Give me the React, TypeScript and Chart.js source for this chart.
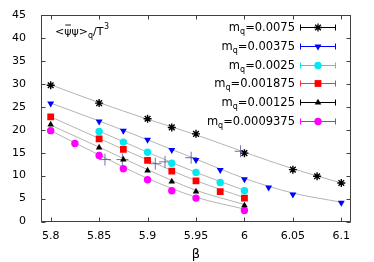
import React, { useEffect, useRef } from "react";
import { Chart, registerables } from "chart.js";

Chart.register(...registerables);

// ---- axis ticks ----
const X_TICKS = [5.8, 5.85, 5.9, 5.95, 6.0, 6.05, 6.1];
const X_TICK_LABELS = ["5.8", "5.85", "5.9", "5.95", "6", "6.05", "6.1"];
const Y_TICKS = [0, 5, 10, 15, 20, 25, 30, 35, 40, 45];
const X_MIN = 5.79;
const X_MAX = 6.11;
const Y_MIN = 0;
const Y_MAX = 45;

// ---- legend labels (quark masses) ----
const MASS_LABELS = ["0.0075", "0.00375", "0.0025", "0.001875", "0.00125", "0.0009375"];

// ---- data series ----
const BETA_A = [5.8, 5.85, 5.9, 5.925, 5.95, 6.0, 6.05, 6.075, 6.1];
const VAL_A = [29.7, 25.8, 22.4, 20.5, 19.1, 14.9, 11.3, 9.85, 8.4];

const BETA_B = [5.8, 5.85, 5.875, 5.9, 5.925, 5.95, 5.975, 6.0, 6.025, 6.05, 6.1];
const VAL_B = [25.7, 21.8, 19.8, 17.8, 15.6, 13.4, 11.2, 9.2, 7.4, 5.9, 4.1];

const BETA_C = [5.85, 5.875, 5.9, 5.925, 5.95, 5.975, 6.0];
const VAL_C = [19.6, 17.3, 15.1, 12.7, 10.7, 8.5, 6.7];

const BETA_D = [5.8, 5.85, 5.875, 5.9, 5.925, 5.95, 5.975, 6.0];
const VAL_D = [22.8, 18.0, 15.7, 13.3, 11.0, 8.85, 6.5, 5.1];

const BETA_E = [5.8, 5.85, 5.875, 5.9, 5.925, 5.95, 6.0];
const VAL_E = [21.1, 16.1, 13.5, 11.1, 8.7, 6.5, 3.5];

const BETA_F = [5.8, 5.825, 5.85, 5.875, 5.9, 5.925, 5.95, 6.0];
const VAL_F = [19.8, 17.0, 14.4, 11.5, 9.1, 6.7, 5.1, 2.4];

// ---- extra crosses (no legend entry) ----
const CROSS_BETA = [5.856, 5.874, 5.908, 5.918, 5.945, 5.996];
const CROSS_VAL = [13.5, 13.5, 12.6, 13.0, 13.9, 15.3];

// ---- fit curves ----
const FIT_A_BETA = [5.8, 5.85, 5.9, 5.95, 6.0, 6.05, 6.1];
const FIT_A = [29.8, 25.9, 22.3, 18.9, 15.1, 11.5, 8.4];
const FIT_B_BETA = [5.8, 5.85, 5.9, 5.95, 6.0, 6.05, 6.1];
const FIT_B = [25.8, 21.9, 17.8, 13.6, 9.4, 6.2, 4.2];
const FIT_C_BETA = [5.85, 5.9, 5.95, 6.0];
const FIT_C = [19.7, 15.1, 10.7, 6.8];
const FIT_D_BETA = [5.8, 5.85, 5.9, 5.95, 6.0];
const FIT_D = [22.8, 18.1, 13.4, 8.9, 5.2];
const FIT_E_BETA = [5.8, 5.85, 5.9, 5.95, 6.0];
const FIT_E = [21.0, 16.2, 11.3, 6.8, 3.7];
const FIT_F_BETA = [5.8, 5.85, 5.9, 5.95, 6.0];
const FIT_F = [19.8, 14.5, 9.4, 5.3, 2.7];

const FONT = "'DejaVu Sans', sans-serif";

type Marker = { style: string; rot: number; r: number; color: string; line: string };
const MARKERS: Marker[] = [
  { style: "star", rot: 0, r: 4, color: "#000000", line: "#000000" },
  { style: "triangle", rot: 180, r: 4, color: "#0000ff", line: "#0000ff" },
  { style: "circle", rot: 0, r: 3.7, color: "#00e8f0", line: "#00e8f0" },
  { style: "rect", rot: 0, r: 4.8, color: "#ff0000", line: "#ff3030" },
  { style: "triangle", rot: 0, r: 3.8, color: "#000000", line: "#000000" },
  { style: "circle", rot: 0, r: 3.7, color: "#ff00ff", line: "#ff00ff" },
];

const zip = (xs: number[], ys: number[]) => xs.map((x, i) => ({ x, y: ys[i] }));

function drawMarker(ctx: CanvasRenderingContext2D, m: Marker, x: number, y: number) {
  ctx.save();
  ctx.fillStyle = m.color;
  ctx.strokeStyle = m.color;
  ctx.lineWidth = 1.3;
  const r = m.r;
  if (m.style === "circle") {
    ctx.beginPath();
    ctx.arc(x, y, r, 0, Math.PI * 2);
    ctx.fill();
  } else if (m.style === "rect") {
    const s = r * Math.SQRT1_2;
    ctx.fillRect(x - s, y - s, 2 * s, 2 * s);
  } else if (m.style === "triangle") {
    const sgn = m.rot === 180 ? -1 : 1;
    const h = r;
    ctx.beginPath();
    ctx.moveTo(x, y - sgn * h);
    ctx.lineTo(x - h * 0.866, y + sgn * h * 0.5);
    ctx.lineTo(x + h * 0.866, y + sgn * h * 0.5);
    ctx.closePath();
    ctx.fill();
  } else if (m.style === "star") {
    ctx.beginPath();
    ctx.moveTo(x - r, y);
    ctx.lineTo(x + r, y);
    ctx.moveTo(x, y - r);
    ctx.lineTo(x, y + r);
    const d = r * 0.707;
    ctx.moveTo(x - d, y - d);
    ctx.lineTo(x + d, y + d);
    ctx.moveTo(x - d, y + d);
    ctx.lineTo(x + d, y - d);
    ctx.stroke();
  }
  ctx.restore();
}

const overlay = {
  id: "overlay",
  afterDatasetsDraw(chart: any) {
    const { ctx, chartArea: a, scales } = chart;
    const xs = scales.x;
    const ys = scales.y;
    ctx.save();
    // frame
    ctx.strokeStyle = "#404040";
    ctx.lineWidth = 1;
    const L = Math.round(a.left) + 0.5;
    const R = Math.round(a.right) - 0.5;
    const T = Math.round(a.top) + 0.5;
    const B = Math.round(a.bottom) - 0.5;
    ctx.strokeRect(L, T, R - L, B - T);
    // inward ticks
    const tl = 4;
    ctx.beginPath();
    X_TICKS.forEach((v) => {
      const px = Math.round(xs.getPixelForValue(v)) + 0.5;
      ctx.moveTo(px, B);
      ctx.lineTo(px, B - tl);
      ctx.moveTo(px, T);
      ctx.lineTo(px, T + tl);
    });
    Y_TICKS.forEach((v) => {
      const py = Math.round(ys.getPixelForValue(v)) + 0.5;
      ctx.moveTo(L, py);
      ctx.lineTo(L + tl, py);
      ctx.moveTo(R, py);
      ctx.lineTo(R - tl, py);
    });
    ctx.stroke();

    // title <ψ̄ψ>_q/T^3
    ctx.fillStyle = "#000";
    ctx.textBaseline = "alphabetic";
    ctx.textAlign = "left";
    const big = `11px ${FONT}`;
    const legBig = `11.5px ${FONT}`;
    const small = `8px ${FONT}`;
    let tx = 55;
    const ty = 35;
    ctx.font = big;
    ctx.fillText("<", tx, ty);
    tx += ctx.measureText("<").width;
    const psiW = ctx.measureText("ψ").width;
    ctx.fillText("ψ", tx, ty);
    ctx.beginPath();
    ctx.lineWidth = 0.9;
    ctx.strokeStyle = "#000";
    ctx.moveTo(tx + 1, ty - 10);
    ctx.lineTo(tx + psiW - 0.5, ty - 10);
    ctx.stroke();
    tx += psiW;
    ctx.fillText("ψ>", tx, ty);
    tx += ctx.measureText("ψ>").width;
    ctx.font = small;
    ctx.fillText("q", tx, ty + 3);
    tx += ctx.measureText("q").width;
    ctx.font = big;
    ctx.fillText("/T", tx, ty);
    tx += ctx.measureText("/T").width;
    ctx.font = small;
    ctx.fillText("3", tx + 0.5, ty - 6);

    // legend
    ctx.textAlign = "right";
    MASS_LABELS.forEach((lab, i) => {
      const y = 26.7 + i * 18.9;
      const xr = 295;
      const base = y + 4;
      ctx.fillStyle = "#000";
      ctx.font = legBig;
      const t1 = "=" + lab;
      ctx.fillText(t1, xr, base);
      const w1 = ctx.measureText(t1).width;
      ctx.font = small;
      ctx.fillText("q", xr - w1, base + 3);
      const w2 = ctx.measureText("q").width;
      ctx.font = legBig;
      ctx.fillText("m", xr - w1 - w2, base);
      // sample line with error-bar caps
      const m = MARKERS[i];
      const ly = Math.round(y) + 0.5;
      ctx.strokeStyle = m.line;
      ctx.lineWidth = 1;
      ctx.beginPath();
      ctx.moveTo(300, ly);
      ctx.lineTo(336, ly);
      ctx.moveTo(300.5, ly - 3);
      ctx.lineTo(300.5, ly + 3);
      ctx.moveTo(335.5, ly - 3);
      ctx.lineTo(335.5, ly + 3);
      ctx.stroke();
      drawMarker(ctx, m, 318, ly);
    });

    // x axis title
    ctx.textAlign = "center";
    ctx.fillStyle = "#000";
    ctx.font = `13px ${FONT}`;
    ctx.fillText("β", (a.left + a.right) / 2, 258);
    ctx.restore();
  },
};

export default function App() {
  const ref = useRef<HTMLCanvasElement | null>(null);
  useEffect(() => {
    if (!ref.current) return;
    const fitSet = (xs: number[], ys: number[]) => ({
      data: zip(xs, ys),
      showLine: true,
      borderColor: "#b4b4b4",
      borderWidth: 1,
      pointRadius: 0,
      cubicInterpolationMode: "monotone" as const,
      order: 10,
    });
    const pointSet = (xs: number[], ys: number[], m: Marker) => ({
      data: zip(xs, ys),
      showLine: false,
      pointStyle: m.style,
      rotation: m.rot,
      radius: m.r,
      pointRadius: m.r,
      backgroundColor: m.color,
      borderColor: m.color,
      borderWidth: m.style === "star" ? 1.4 : 0,
      order: 0,
    });
    const chart = new Chart(ref.current, {
      type: "scatter",
      data: {
        datasets: [
          pointSet(BETA_A, VAL_A, MARKERS[0]),
          pointSet(BETA_B, VAL_B, MARKERS[1]),
          pointSet(BETA_C, VAL_C, MARKERS[2]),
          pointSet(BETA_D, VAL_D, MARKERS[3]),
          pointSet(BETA_E, VAL_E, MARKERS[4]),
          pointSet(BETA_F, VAL_F, MARKERS[5]),
          {
            data: zip(CROSS_BETA, CROSS_VAL),
            showLine: false,
            pointStyle: "cross",
            pointRadius: 6,
            borderColor: "rgba(70,70,140,0.75)",
            borderWidth: 1,
            order: 5,
          },
          fitSet(FIT_A_BETA, FIT_A),
          fitSet(FIT_B_BETA, FIT_B),
          fitSet(FIT_C_BETA, FIT_C),
          fitSet(FIT_D_BETA, FIT_D),
          fitSet(FIT_E_BETA, FIT_E),
          fitSet(FIT_F_BETA, FIT_F),
        ] as any,
      },
      options: {
        animation: false,
        responsive: false,
        events: [],
        layout: { padding: { top: 15, right: 23, left: 0, bottom: 0 } },
        plugins: { legend: { display: false }, tooltip: { enabled: false }, title: { display: false } },
        scales: {
          x: {
            type: "linear",
            min: X_MIN,
            max: X_MAX,
            grid: { display: false },
            border: { display: false },
            afterBuildTicks: (s: any) => {
              s.ticks = X_TICKS.map((v) => ({ value: v }));
            },
            afterFit: (s: any) => {
              s.height = 40.5;
            },
            ticks: {
              autoSkip: false,
              maxRotation: 0,
              padding: 0,
              color: "#000",
              font: { family: FONT, size: 11 },
              callback: (v: any) => {
                const i = X_TICKS.findIndex((t) => Math.abs(t - Number(v)) < 1e-6);
                return i >= 0 ? X_TICK_LABELS[i] : "";
              },
            },
          },
          y: {
            type: "linear",
            min: Y_MIN,
            max: Y_MAX,
            grid: { display: false },
            border: { display: false },
            afterBuildTicks: (s: any) => {
              s.ticks = Y_TICKS.map((v) => ({ value: v }));
            },
            afterFit: (s: any) => {
              s.width = 41;
            },
            ticks: {
              padding: 7,
              color: "#000",
              font: { family: FONT, size: 11 },
              callback: (v: any) => String(v),
            },
          },
        },
      },
      plugins: [overlay],
    });
    return () => chart.destroy();
  }, []);
  return (
    <div style={{ position: "fixed", left: 0, top: 0, width: 374, height: 262, background: "#fff" }}>
      <canvas ref={ref} width={374} height={262} style={{ display: "block", width: 374, height: 262 }} />
    </div>
  );
}
